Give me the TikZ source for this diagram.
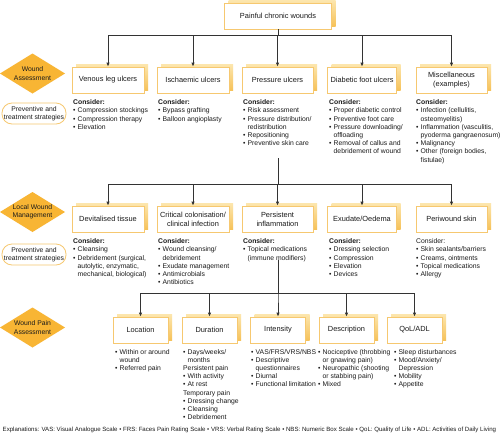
\documentclass[tikz,border=0pt]{standalone}
\usepackage{fontspec}
\setmainfont{Liberation Sans}
\usetikzlibrary{arrows.meta,shadows}
\definecolor{boxline}{HTML}{F6C870}
\definecolor{shadtop}{HTML}{FCE6AE}
\definecolor{shadbot}{HTML}{F6C25A}
\definecolor{diam}{HTML}{F8B534}
\definecolor{txt}{HTML}{1A1A1A}
\definecolor{conn}{HTML}{333333}
\newcommand{\bul}{\makebox[4.5pt][l]{\textbullet}}
\newcommand{\ind}{\hspace*{4.5pt}}
\tikzset{
  catbox/.style={draw=boxline, line width=0.8pt, fill=white, minimum width=71pt,
    minimum height=26pt, align=center, inner sep=1pt, text=txt,
    font=\fontsize{7.4}{9.2}\selectfont,
    general shadow={top color=shadtop, bottom color=shadbot, shadow xshift=4pt, shadow yshift=3pt}},
  smallbox/.style={catbox, minimum width=55pt},
  cons/.style={anchor=north west, align=left, inner sep=0pt, text=txt,
    font=\fontsize{6.8}{8.2}\selectfont},
  dtext/.style={align=center, inner sep=0pt, text=txt, font=\fontsize{6.8}{8.4}\selectfont},
  pill/.style={draw=boxline, line width=0.8pt, fill=white, rounded corners=10pt,
    minimum width=64pt, minimum height=21pt, inner sep=0pt, align=center, text=txt,
    font=\fontsize{6.8}{8.4}\selectfont},
  arr/.style={draw=conn, line width=0.8pt, -{Latex[length=4pt,width=3.5pt]}},
  ln/.style={draw=conn, line width=0.8pt}
}
\begin{document}
\begin{tikzpicture}[x=1pt,y=-1pt]
\useasboundingbox[fill=white] (0,0) rectangle (500,434);

% ---- left side labels ----
\fill[diam] (0,73.5) -- (32.5,53.5) -- (65,73.5) -- (32.5,93.5) -- cycle;
\node[dtext] (d1) at (32.5,73.5) {Wound\\Assessment};
\node[pill] (p1) at (34,113.5) {Preventive and\\treatment strategies};

\fill[diam] (0,212) -- (32.5,192) -- (65,212) -- (32.5,232) -- cycle;
\node[dtext] (d2) at (32.5,212) {Local Wound\\Management};
\node[pill] (p2) at (34,254.5) {Preventive and\\treatment strategies};

\fill[diam] (0,327.5) -- (32.5,307.5) -- (65,327.5) -- (32.5,347.5) -- cycle;
\node[dtext] (d3) at (32.5,327.5) {Wound Pain\\Assessment};

% ---- root ----
\node[catbox, minimum width=107pt] (root) at (278,16) {Painful chronic wounds};

% ---- row 1 ----
\node[catbox, minimum width=72pt] (va) at (108,80) {Venous leg ulcers};
\node[catbox, minimum width=72pt] (isc) at (193,80) {Ischaemic ulcers};
\node[catbox] (pre) at (277.5,80) {Pressure ulcers};
\node[catbox, minimum width=69pt] (dia) at (362,80) {Diabetic foot ulcers};
\node[catbox] (mis) at (451.5,80) {Miscellaneous\\(examples)};

\coordinate (h1) at (278,35);
\foreach \c in {va,isc,pre,dia,mis}
  \draw[arr] (root.south) -- (root.south |- h1) -| (\c.north);

\node[cons] (c1a) at (73,99.5) {\textbf{Consider:}\\\bul Compression stockings\\\bul Compression therapy\\\bul Elevation};
\node[cons] (c1b) at (158,99.5) {\textbf{Consider:}\\\bul Bypass grafting\\\bul Balloon angioplasty};
\node[cons] (c1c) at (243,99.5) {\textbf{Consider:}\\\bul Risk assessment\\\bul Pressure distribution/\\\ind redistribution\\\bul Repositioning\\\bul Preventive skin care};
\node[cons] (c1d) at (329,99.5) {\textbf{Consider:}\\\bul Proper diabetic control\\\bul Preventive foot care\\\bul Pressure downloading/\\\ind offloading\\\bul Removal of callus and\\\ind debridement of wound};
\node[cons] (c1e) at (416,99.5) {\textbf{Consider:}\\\bul Infection (cellulitis,\\\ind osteomyelitis)\\\bul Inflammation (vasculitis,\\\ind pyoderma gangraenosum)\\\bul Malignancy\\\bul Other (foreign bodies,\\\ind fistulae)};

% ---- row 2 ----
\node[catbox, minimum width=72pt] (dev) at (108,219) {Devitalised tissue};
\node[catbox, minimum width=72pt] (cri) at (193,219) {Critical colonisation/\\clinical infection};
\node[catbox] (per) at (277.5,219) {Persistent\\inflammation};
\node[catbox, minimum width=69pt] (exu) at (362,219) {Exudate/Oedema};
\node[catbox] (pws) at (451.5,219) {Periwound skin};

\coordinate (s2) at (278,158);
\coordinate (h2) at (278,184);
\foreach \c in {dev,cri,per,exu,pws}
  \draw[arr] (s2) -- (h2) -| (\c.north);

\node[cons] (c2a) at (73,238.5) {\textbf{Consider:}\\\bul Cleansing\\\bul Debridement (surgical,\\\ind autolytic, enzymatic,\\\ind mechanical, biological)};
\node[cons] (c2b) at (158,238.5) {\textbf{Consider:}\\\bul Wound cleansing/\\\ind debridement\\\bul Exudate management\\\bul Antimicrobials\\\bul Antibiotics};
\node[cons] (c2c) at (243,238.5) {\textbf{Consider:}\\\bul Topical medications\\\ind (immune modifiers)};
\node[cons] (c2d) at (329,238.5) {\textbf{Consider:}\\\bul Dressing selection\\\bul Compression\\\bul Elevation\\\bul Devices};
\node[cons] (c2e) at (416,238.5) {Consider:\\\bul Skin sealants/barriers\\\bul Creams, ointments\\\bul Topical medications\\\bul Allergy};

% ---- row 3 ----
\node[smallbox] (loc) at (140.5,330) {Location};
\node[smallbox] (dur) at (209.5,330) {Duration};
\node[smallbox] (int) at (278,330) {Intensity};
\node[smallbox] (des) at (346.5,330) {Description};
\node[smallbox] (qol) at (414.5,330) {QoL/ADL};

\coordinate (s3) at (278,260);
\coordinate (h3) at (278,293);
\foreach \c in {loc,dur,int,des,qol}
  \draw[arr] (s3) -- (h3) -| (\c.north);

\node[cons] (c3a) at (115,349) {\bul Within or around\\\ind wound\\\bul Referred pain};
\node[cons] (c3b) at (183,349) {\bul Days/weeks/\\\ind months\\Persistent pain\\\bul With activity\\\bul At rest\\Temporary pain\\\bul Dressing change\\\bul Cleansing\\\bul Debridement};
\node[cons] (c3c) at (251,349) {\bul VAS/FRS/VRS/NBS\\\bul Descriptive\\\ind questionnaires\\\bul Diurnal\\\bul Functional limitation};
\node[cons] (c3d) at (318,349) {\bul Nociceptive (throbbing\\\ind or gnawing pain)\\\bul Neuropathic (shooting\\\ind or stabbing pain)\\\bul Mixed};
\node[cons] (c3e) at (394,349) {\bul Sleep disturbances\\\bul Mood/Anxiety/\\\ind Depression\\\bul Mobility\\\bul Appetite};

% ---- footer ----
\node[anchor=west, inner sep=0pt, text=txt, font=\fontsize{6.1}{7}\selectfont] (foot) at (2.5,430)
  {Explanations: VAS: Visual Analogue Scale \textbullet\ FRS: Faces Pain Rating Scale \textbullet\ VRS: Verbal Rating Scale \textbullet\ NBS: Numeric Box Scale \textbullet\ QoL: Quality of Life \textbullet\ ADL: Activities of Daily Living};
\end{tikzpicture}
\end{document}
